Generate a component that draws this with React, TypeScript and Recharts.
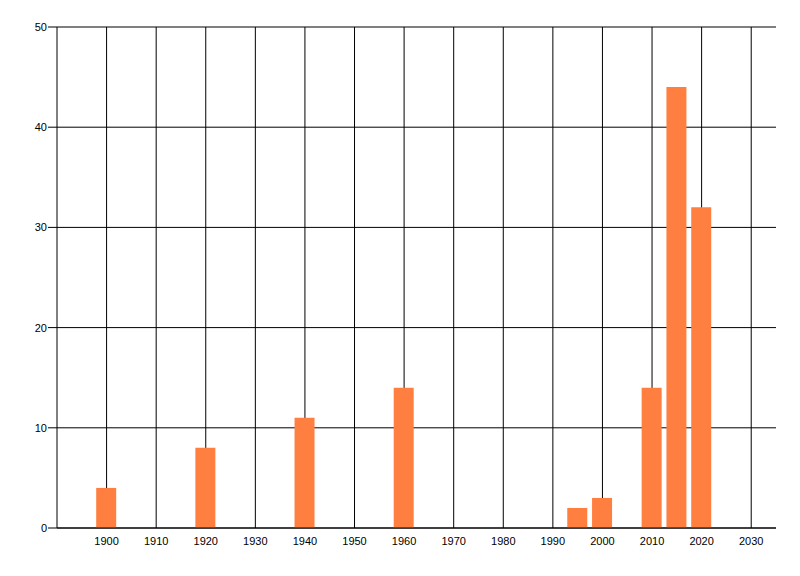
import React from "react";
import { BarChart, Bar, XAxis, YAxis, CartesianGrid } from "recharts";

const years = [1900, 1920, 1940, 1960, 1995, 2000, 2010, 2015, 2020];
const counts = [4, 8, 11, 14, 2, 3, 14, 44, 32];
const xTicks = [1900, 1910, 1920, 1930, 1940, 1950, 1960, 1970, 1980, 1990, 2000, 2010, 2020, 2030];
const yTicks = [0, 10, 20, 30, 40, 50];

const data = years.map((y, i) => ({ year: y, value: counts[i] }));

const tickStyle = { fontFamily: "'Liberation Sans', Arial, sans-serif", fontSize: 11, fill: "#000" };

export default function App() {
  return (
    <div style={{ width: 792, height: 568 }}>
      <BarChart
        width={792}
        height={568}
        data={data}
        margin={{ top: 19, right: 24, left: 0, bottom: 0 }}
        barSize={20}
      >
        <CartesianGrid
          stroke="#000"
          strokeWidth={1}
          verticalValues={xTicks}
          horizontalValues={yTicks}
        />
        <XAxis
          dataKey="year"
          type="number"
          domain={[1890, 2035]}
          ticks={xTicks}
          interval={0}
          height={48}
          tickLine={false}
          tickSize={0}
          tickMargin={9}
          axisLine={{ stroke: "#000" }}
          tick={tickStyle}
          allowDataOverflow
        />
        <YAxis
          type="number"
          domain={[0, 50]}
          ticks={yTicks}
          width={49}
          tickSize={9}
          tickMargin={1}
          tickLine={{ stroke: "#000" }}
          axisLine={{ stroke: "#000" }}
          tick={tickStyle}
        />
        <Bar dataKey="value" fill="#FF7F40" isAnimationActive={false} />
      </BarChart>
    </div>
  );
}
